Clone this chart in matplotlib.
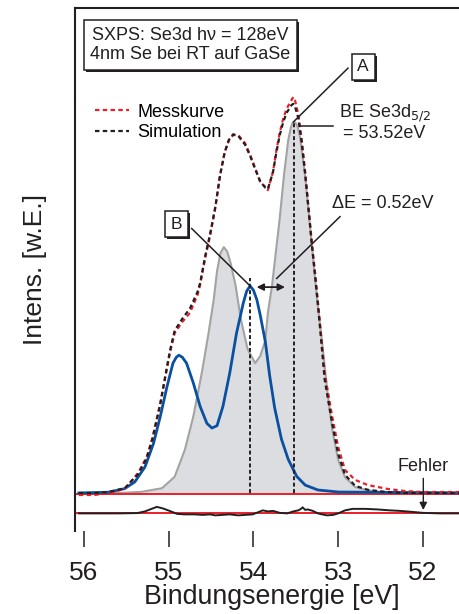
import matplotlib
matplotlib.use('Agg')
import matplotlib.pyplot as plt
import matplotlib.patheffects as pe
import numpy as np

plt.rcParams['font.family'] = ['Liberation Sans', 'DejaVu Sans']
INK = '#231f20'

# measured spectrum and simulation (binding energy in eV, intensity in a.u.)
e_curve = [56.06, 55.87, 55.72, 55.52, 55.36, 55.26, 55.19, 55.10, 55.04, 54.985,
           54.93, 54.84, 54.75, 54.66, 54.63, 54.57, 54.51, 54.45, 54.395, 54.34,
           54.29, 54.24, 54.18, 54.10, 54.04, 53.98, 53.92, 53.86, 53.83, 53.77,
           53.73, 53.69, 53.65, 53.61, 53.55, 53.53, 53.51, 53.47, 53.43, 53.39,
           53.35, 53.31, 53.27, 53.24, 53.215, 53.16, 53.07, 53.00, 52.92, 52.80,
           52.65, 52.41, 52.21, 52.01, 51.45]
mess_i = [-0.5, -0.5, 0.0, 1.0, 5.1, 9.1, 14.1, 22.7, 29.3, 35.4,
          40.4, 43.2, 45.5, 50.0, 52.5, 59.3, 65.2, 72.0, 80.3, 86.1,
          89.1, 90.4, 90.4, 88.4, 85.4, 82.1, 78.5, 77.3, 76.5, 81.1,
          86.5, 91.0, 94.5, 97.0, 99.3, 100.0, 99.2, 95.5, 89.0, 81.0,
          72.0, 63.0, 55.0, 48.5, 42.9, 30.3, 19.2, 11.6, 5.8, 3.3,
          2.0, 1.0, 0.5, 0.25, 0.25]
sim_i = [0.0, 0.0, 0.2, 1.2, 4.8, 8.8, 13.8, 22.4, 29.6, 36.0,
         41.0, 44.0, 46.6, 50.8, 53.0, 59.8, 65.6, 72.3, 80.1, 86.0,
         89.2, 90.6, 90.2, 88.0, 85.2, 81.8, 78.7, 77.1, 76.8, 81.0,
         86.0, 90.4, 93.6, 96.0, 98.0, 98.3, 97.6, 94.6, 88.4, 80.6,
         71.6, 62.4, 54.2, 47.6, 41.8, 28.6, 17.4, 9.8, 4.6, 1.8,
         0.8, 0.2, 0.0, 0.0, 0.0]

# component A (Se3d doublet, grey)
grey_e = [56.06, 55.58, 55.32, 55.08, 54.93, 54.81, 54.71, 54.61, 54.53, 54.47,
          54.43, 54.39, 54.35, 54.31, 54.27, 54.21, 54.15, 54.07, 53.98, 53.92,
          53.86, 53.83, 53.78, 53.74, 53.69, 53.64, 53.59, 53.56, 53.54, 53.52,
          53.50, 53.48, 53.45, 53.39, 53.33, 53.27, 53.24, 53.19, 53.13, 53.07,
          53.00, 52.92, 52.80, 52.65, 52.45, 51.45]
grey_i = [0.0, 0.0, 0.3, 1.2, 4.1, 10.9, 19.3, 30.3, 40.4, 48.7,
          56.0, 60.6, 62.1, 61.0, 58.1, 52.3, 44.0, 36.4, 32.8, 34.6,
          38.6, 45.5, 52.5, 60.1, 69.4, 80.3, 89.1, 92.2, 93.4, 93.7,
          93.4, 92.6, 89.8, 80.0, 66.8, 53.5, 47.0, 38.0, 26.0, 16.0,
          8.3, 4.0, 1.5, 0.7, 0.1, 0.0]

# component B (blue)
blue_e = [56.06, 55.71, 55.52, 55.40, 55.28, 55.18, 55.10, 55.02, 54.95, 54.91,
          54.88, 54.84, 54.79, 54.71, 54.63, 54.55, 54.49, 54.43, 54.36, 54.28,
          54.20, 54.12, 54.08, 54.04, 54.00, 53.96, 53.92, 53.86, 53.81, 53.75,
          53.67, 53.59, 53.49, 53.39, 53.24, 53.00, 51.45]
blue_i = [0.0, 0.2, 1.1, 2.8, 6.6, 12.5, 19.3, 26.9, 32.8, 34.3,
          34.8, 34.3, 32.8, 27.8, 21.9, 17.6, 16.4, 17.0, 21.9, 30.3,
          40.4, 48.0, 51.0, 52.3, 51.2, 48.8, 44.9, 38.2, 29.8, 21.5,
          13.6, 8.5, 4.2, 2.0, 0.76, 0.25, 0.0]

# residual (Fehler)
err_e = [56.06, 55.81, 55.58, 55.37, 55.28, 55.22, 55.14, 55.07, 54.99, 54.90,
         54.81, 54.69, 54.60, 54.51, 54.45, 54.37, 54.28, 54.18, 54.10, 54.01,
         53.95, 53.89, 53.83, 53.77, 53.69, 53.60, 53.53, 53.47, 53.44, 53.42,
         53.39, 53.36, 53.30, 53.24, 53.19, 53.13, 53.06, 53.00, 52.92, 52.83,
         52.68, 52.54, 52.39, 52.27, 52.13, 52.00, 51.80, 51.45]
err_i = [0.0, 0.0, 0.0, 0.08, 0.5, 1.0, 1.64, 1.26, 0.63, -0.13,
         -0.25, -0.25, -0.38, -0.25, -0.5, -0.38, -0.25, -0.5, -0.38, -0.25,
         0.25, 0.76, 0.5, 0.63, 0.13, 0.0, 0.5, 0.76, 1.14, 1.52,
         0.88, 1.0, 0.63, 0.0, -0.25, -0.5, -0.38, 0.0, 0.76, 1.14,
         1.14, 1.0, 0.76, 0.63, 0.38, 0.13, 0.0, 0.0]

be_a = 53.52          # Se3d5/2 of component A
delta_e = 0.52        # shift of component B
peak_a = 93.7
peak_b = 52.3
base_level = -0.25
err_offset = -5.15
xticks = [56, 55, 54, 53, 52]

fig = plt.figure(figsize=(4.59, 6.14), dpi=100)
ax = fig.add_axes([75 / 459, 1 - 531 / 614, 395 / 459, 523 / 614])
ax.set_xlim(56.106, 51.445)
ax.set_ylim(-9.6, 122.5)

ax.fill_between(grey_e, grey_i, 0, color='#dcdde0', lw=0, zorder=1)
ax.plot(grey_e, grey_i, color='#a3a3a3', lw=1.5, zorder=2)
ax.axhline(base_level, color='#e8202a', lw=1.4, zorder=2.5)
ax.axhline(err_offset, color='#e8202a', lw=1.4, zorder=2.5)
ax.plot(blue_e, blue_i, color='#0a50a0', lw=2.0, zorder=3)
ax.plot(err_e, np.array(err_i) + err_offset, color=INK, lw=1.4, zorder=3)

# markers for the peak positions
ax.plot([be_a, be_a], [0, peak_a], color=INK, lw=1.4, dashes=(2, 1.3), zorder=4)
ax.plot([be_a + delta_e] * 2, [0, peak_b + 2], color=INK, lw=1.4, dashes=(2, 1.3), zorder=4)

red, = ax.plot(e_curve, mess_i, color='#e8202a', lw=1.6, dashes=(2, 1.5), zorder=5,
               label='Messkurve')
blk, = ax.plot(e_curve, sim_i, color=INK, lw=1.6, dashes=(2, 1.5), zorder=6,
               label='Simulation')

ax.legend(handles=[red, blk], loc='upper left', bbox_to_anchor=(0.05, 0.817),
          frameon=False, fontsize=13, handlelength=1.9, handletextpad=0.45,
          labelspacing=0.2, borderaxespad=0, borderpad=0)

# annotations
shadow = [pe.SimplePatchShadow(offset=(1.5, -1.5), shadow_rgbFace=INK, alpha=1), pe.Normal()]
box = dict(boxstyle='square,pad=0.32', fc='white', ec=INK, lw=1.1)

ta = ax.text(52.705, 107.6, 'A', ha='center', va='center', fontsize=12.5, color=INK, bbox=box, zorder=8)
ta.get_bbox_patch().set_path_effects(shadow)
ax.plot([52.885, be_a + 0.01], [107.3, peak_a], color=INK, lw=1.1, zorder=7)

tb = ax.text(54.911, 67.9, 'B', ha='center', va='center', fontsize=12.5, color=INK, bbox=box, zorder=8)
tb.get_bbox_patch().set_path_effects(shadow)
ax.plot([54.729, be_a + delta_e], [66.8, peak_b], color=INK, lw=1.1, zorder=7)

ax.plot([53.451, 53.062], [92.7, 92.7], color=INK, lw=1.1, zorder=7)
ax.text(52.99, 96.0, 'BE Se3d$_{5/2}$', ha='left', va='center', fontsize=13, color=INK)
ax.text(52.944, 90.8, '= 53.52eV', ha='left', va='center', fontsize=13, color=INK)

ax.text(53.074, 73.2, '\u0394E = 0.52eV', ha='left', va='center', fontsize=13, color=INK)
ax.plot([52.979, 53.726], [69.8, 54.2], color=INK, lw=1.1, zorder=7)
ax.annotate('', xy=(53.963, 52.0), xytext=(53.628, 52.0),
            arrowprops=dict(arrowstyle='<|-|>', color=INK, lw=1.3, mutation_scale=10,
                            shrinkA=0, shrinkB=0), zorder=7)

ax.text(52.295, 6.8, 'Fehler', ha='left', va='center', fontsize=13, color=INK)
ax.annotate('', xy=(51.996, -4.3), xytext=(51.996, 3.7),
            arrowprops=dict(arrowstyle='-|>', color=INK, lw=1.0, mutation_scale=11,
                            shrinkA=0, shrinkB=0), zorder=7)

info = fig.text(190.5 / 459, 1 - 45 / 614, 'SXPS: Se3d h\u03bd = 128eV\n4nm Se bei RT auf GaSe',
                ha='center', va='center', multialignment='center', linespacing=1.2,
                fontsize=13, color=INK,
                bbox=dict(boxstyle='square,pad=0.36', fc='white', ec=INK, lw=1.1))
info.get_bbox_patch().set_path_effects(shadow)

# axes styling
for side in ['right', 'bottom']:
    ax.spines[side].set_visible(False)
for side in ['left', 'top']:
    ax.spines[side].set_color(INK)
    ax.spines[side].set_linewidth(1.5)
ax.set_yticks([])
ax.set_xticks(xticks)
ax.set_xticklabels([str(t) for t in xticks])
ax.tick_params(axis='x', direction='out', length=11.5, width=1.1, color=INK,
               labelsize=19, labelcolor=INK, pad=10)
ax.set_xlabel('Bindungsenergie [eV]', fontsize=19.3, color=INK)
ax.xaxis.set_label_coords(0.4975, -0.102)
ax.set_ylabel('Intens. [w.E.]', fontsize=19, color=INK)
ax.yaxis.set_label_coords(-0.072, 0.5)

fig.savefig('out.png', dpi=100)
